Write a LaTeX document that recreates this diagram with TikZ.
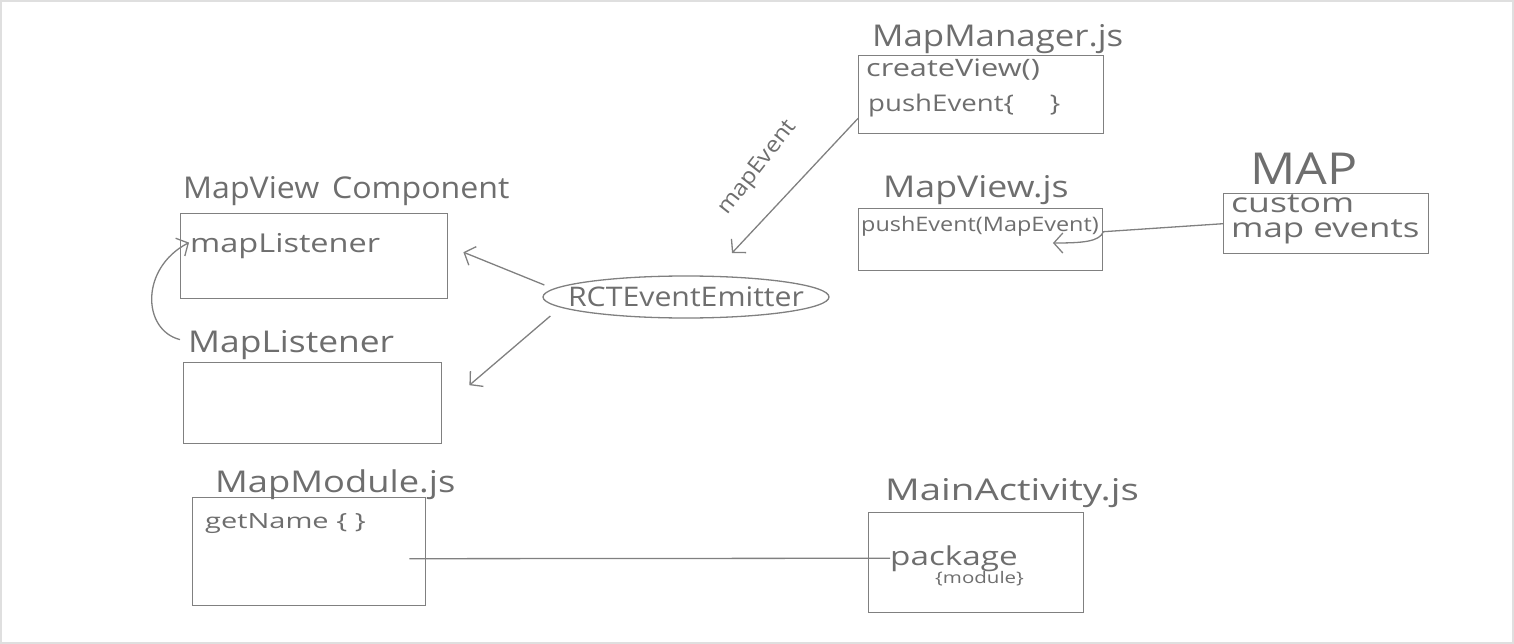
\documentclass[tikz,border=0pt]{standalone}
\usepackage{fontspec}
\setmainfont{Open Sans}
\usetikzlibrary{shapes.geometric,arrows.meta,calc}
\definecolor{ink}{HTML}{808080}
\definecolor{txt}{HTML}{6E6E6E}
\newcommand\hw[2]{\scalebox{#1}[1]{#2}}
\begin{document}
\begin{tikzpicture}[x=1pt,y=-1pt,
  box/.style={draw=ink, line width=1.4pt, anchor=north west, inner sep=0pt},
  title/.style={text=txt, anchor=base west, inner sep=0pt, font=\fontsize{30}{32}\selectfont},
  code/.style={text=txt, anchor=base west, inner sep=0pt, font=\fontsize{24}{26}\selectfont},
  conn/.style={draw=ink, line width=1.3pt},
  arr/.style={conn, -{Straight Barb[length=9pt,width=20pt,line width=1.3pt]}}]
\useasboundingbox (0,0) rectangle (1514,644);
\draw[gray!25, line width=4pt] (0,0) rectangle (1514,644);
% boxes
\node[box, minimum width=245, minimum height=78] (mm) at (858,55) {};
\node[box, minimum width=244, minimum height=62] (mv) at (858,208) {};
\node[box, minimum width=205, minimum height=60] (cust) at (1223,193) {};
\node[box, minimum width=267, minimum height=85] (mvc) at (180,213) {};
\node[box, minimum width=258, minimum height=81] (ml) at (183,362) {};
\node[box, minimum width=233, minimum height=108] (mmod) at (192,497) {};
\node[box, minimum width=215, minimum height=100] (ma) at (868,512) {};
% titles
\node[title] (mmT) at (872,47) {\hw{1.16}{MapManager.js}};
\node[title] (mvT) at (883,198) {\hw{1.19}{MapView.js}};
\node[title, font=\fontsize{44}{46}\selectfont] (mapT) at (1250,185) {\hw{1.14}{MAP}};
\node[title] (mvcT) at (183,199) {\hw{1.07}{MapView\hspace{12pt}Component}};
\node[title] (mlT) at (188,352) {\hw{1.18}{MapListener}};
\node[title] (mmodT) at (215,492) {\hw{1.21}{MapModule.js}};
\node[title] (maT) at (885,500) {\hw{1.28}{MainActivity.js}};
% box contents
\node[code, font=\fontsize{24}{26}\selectfont] (cv) at (866,77) {\hw{1.28}{createView()}};
\node[code, font=\fontsize{23}{25}\selectfont] (pe) at (868,112) {\hw{1.2}{pushEvent\{\hspace{30pt}\}}};
\node[code, font=\fontsize{20}{22}\selectfont] (pme) at (861,232) {\hw{1.17}{pushEvent(MapEvent)}};
\node[code, font=\fontsize{27}{25}\selectfont, align=left, anchor=north west] (ce) at (1231,195) {\hw{1.32}{custom}\\\hw{1.29}{map events}};
\node[code, font=\fontsize{26}{28}\selectfont] (mlin) at (190,252) {\hw{1.25}{mapListener}};
\node[code, font=\fontsize{21}{23}\selectfont] (gn) at (205,528) {\hw{1.38}{getName \{ \}}};
\node[code, font=\fontsize{26}{28}\selectfont] (pkg) at (890,565) {\hw{1.28}{package}};
\node[code, font=\fontsize{16}{18}\selectfont] (mod) at (935,583) {\hw{1.28}{\{module\}}};
% emitter
\node[draw=ink, line width=1.3pt, ellipse, minimum width=286, minimum height=42, inner sep=0pt] (rct) at (686,297) {};
\node[text=txt, font=\fontsize{27}{29}\selectfont, inner sep=0pt] (rctT) at (rct.center) {\hw{1.12}{RCTEventEmitter}};
% connectors
\coordinate (a1) at ($(mm.south west)+(0,-16)$);
\coordinate (a1e) at (732,253);
\draw[arr] (a1) -- (a1e);
\node[text=txt, font=\fontsize{22}{24}\selectfont, rotate=52, inner sep=0pt] (meL) at (758,168) {\hw{1.1}{mapEvent}};
\coordinate (c1) at ($(mv.east)+(0,-8)$);
\coordinate (c2) at ($(pme.south east)+(-46,6)$);
\draw[arr] (cust.west) -- (c1) .. controls ($(c1)+(-4,10)$) and ($(c2)+(30,0)$) .. (c2);
\coordinate (r1) at ($(rct.west)+(2,-12)$);
\coordinate (r1e) at ($(mvc.east)+(15,-4)$);
\draw[arr] (r1) -- (r1e);
\coordinate (r2) at ($(rct.west)+(8,19)$);
\coordinate (r2e) at ($(ml.east)+(27,-18)$);
\draw[arr] (r2) -- (r2e);
\coordinate (l1) at ($(mlT.west)+(-8,-5)$);
\draw[arr] (l1) .. controls (142,330) and (140,268) .. ($(mlin.west)+(-1,-3)$);
\coordinate (m1) at ($(mmod.east)+(-17,7)$);
\draw[conn] (m1) -- (pkg.west);
\end{tikzpicture}
\end{document}
